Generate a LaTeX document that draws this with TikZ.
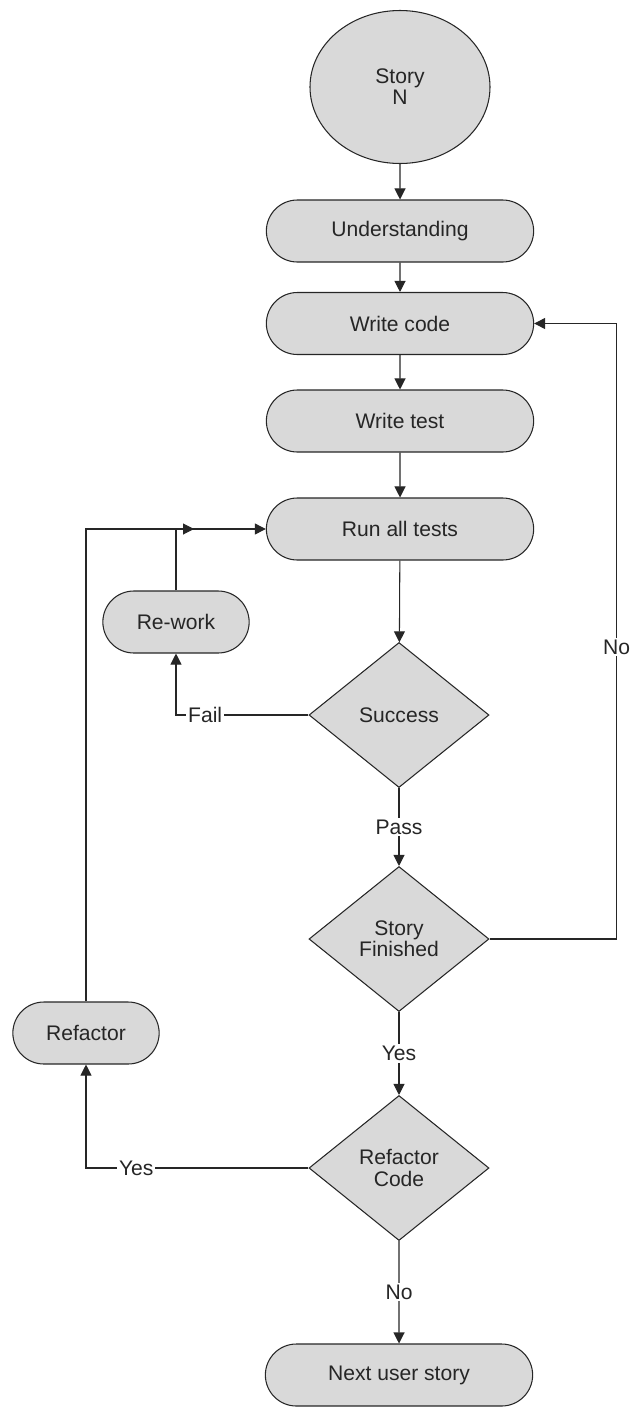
\documentclass[tikz,border=0pt]{standalone}
\usepackage{fontspec}
\setmainfont{Liberation Sans}
\usetikzlibrary{shapes.misc,shapes.geometric,arrows.meta}

\definecolor{riempimento}{HTML}{D9D9D9}
\definecolor{tratto}{HTML}{262626}

\tikzset{
  blocco/.style={shape=rounded rectangle, draw=tratto, fill=riempimento,
    line width=0.6pt, minimum height=1.24cm, text=tratto},
  decisione/.style={diamond, draw=tratto, fill=riempimento, line width=0.6pt,
    minimum width=3.6cm, minimum height=2.9cm, inner sep=0pt, align=center,
    text=tratto},
  freccia/.style={draw=tratto, line width=0.6pt,
    -{Triangle[length=0.22cm,width=0.22cm]}},
  etichetta/.style={fill=white, inner sep=1pt, text=tratto},
}

\begin{document}
\begin{tikzpicture}[font=\fontsize{12}{12}\selectfont]
  \newlength{\bloccoW}
  \newlength{\piccoloW}
  \setlength{\bloccoW}{5.58cm}
  \setlength{\piccoloW}{3.16cm}

  \useasboundingbox (0,0) rectangle (12.64,-28.14);

  % inizio
  \node[ellipse, draw=tratto, fill=riempimento, line width=0.6pt, text=tratto,
    minimum width=3.6cm, minimum height=3.06cm, align=center]
    (Story) at (8.0,-1.74) {Story\\N};

  % colonna principale
  \node[blocco, minimum width=\bloccoW] (Understanding) at (8.0,-4.62) {Understanding};
  \node[blocco, minimum width=\bloccoW] (WriteCode) at (8.0,-6.47) {Write code};
  \node[blocco, minimum width=\bloccoW] (WriteTest) at (8.0,-8.42) {Write test};
  \node[blocco, minimum width=\bloccoW] (RunTests) at (8.0,-10.58) {Run all tests};
  \node[decisione] (Success) at (7.98,-14.3) {Success};
  \node[decisione] (StoryFinished) at (7.98,-18.78) {Story\\Finished};
  \node[decisione] (RefactorCode) at (7.98,-23.36) {Refactor\\Code};
  \node[blocco, minimum width=\bloccoW] (NextStory) at (7.98,-27.5) {Next user story};

  % rami laterali
  \node[blocco, minimum width=\piccoloW] (Rework) at (3.52,-12.44) {Re-work};
  \node[blocco, minimum width=\piccoloW] (Refactor) at (1.72,-20.66) {Refactor};
  \coordinate (RientroRework) at (3.88,-10.58);

  % frecce
  \draw[freccia] (Story) -- (Understanding);
  \draw[freccia] (Understanding) -- (WriteCode);
  \draw[freccia] (WriteCode) -- (WriteTest);
  \draw[freccia] (WriteTest) -- (RunTests);
  \draw[freccia] (RunTests) -- (Success);
  \draw[freccia] (Success) -- node[etichetta] {Pass} (StoryFinished);
  \draw[freccia] (StoryFinished) -- node[etichetta] {Yes} (RefactorCode);
  \draw[freccia] (RefactorCode) -- node[etichetta] {No} (NextStory);
  \draw[freccia] (Success.west) -| node[etichetta, pos=0.39] {Fail} (Rework.south);
  \draw[freccia] (Rework.north) |- (RientroRework);
  \draw[freccia] (RefactorCode.west) -| node[etichetta, pos=0.387] {Yes} (Refactor.south);
  \draw[freccia] (Refactor.north) |- (RunTests.west);
  \draw[freccia] (StoryFinished.east) -- ++(2.54,0) |- node[etichetta, pos=0.237] {No} (WriteCode.east);
\end{tikzpicture}
\end{document}
